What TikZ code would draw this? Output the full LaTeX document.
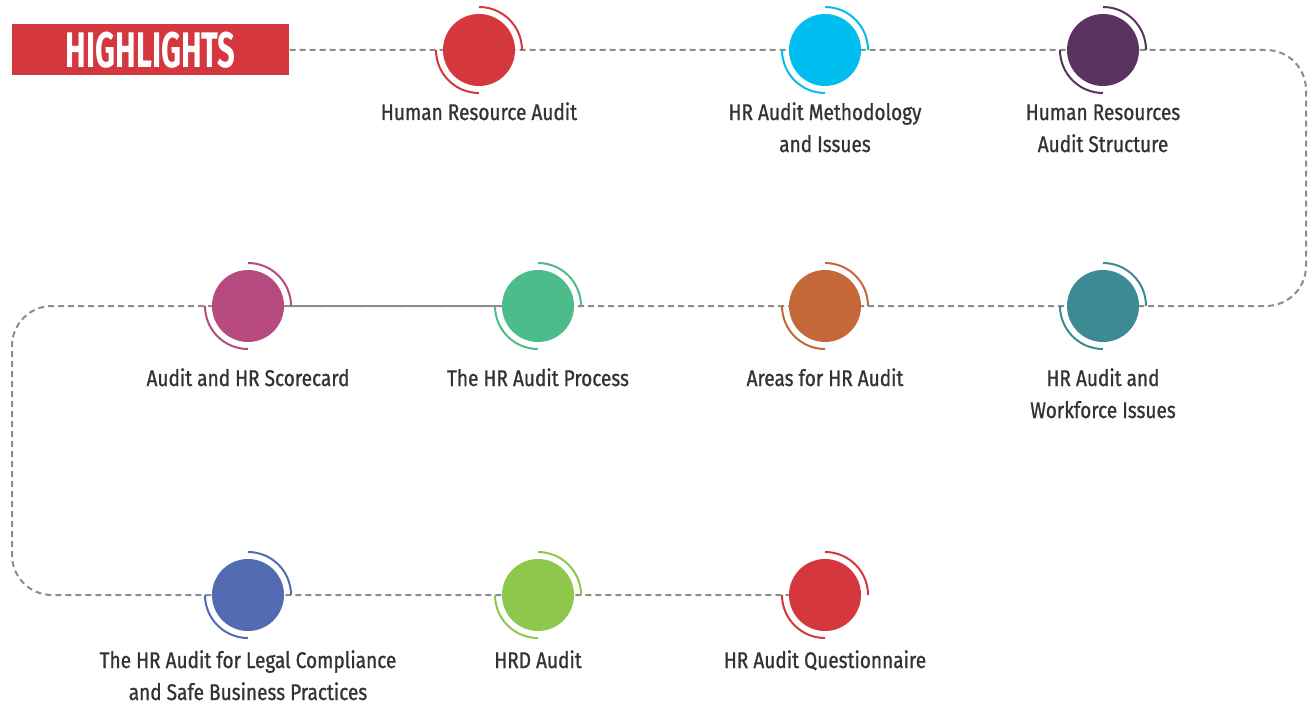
\documentclass[tikz,border=0pt]{standalone}
\usepackage{fontspec}
\setmainfont{Fira Sans}[FakeStretch=0.84, FakeBold=0.9]
\newfontfamily\hfont{Fira Sans}[FakeStretch=0.62]
\definecolor{txt}{HTML}{333333}
\definecolor{ln}{HTML}{8C8C8C}
\definecolor{cRed}{HTML}{D4373D}
\definecolor{cCyan}{HTML}{00BEF0}
\definecolor{cPurple}{HTML}{5C3263}
\definecolor{cMag}{HTML}{B84A82}
\definecolor{cGreen}{HTML}{4CBD8A}
\definecolor{cOrange}{HTML}{C4683A}
\definecolor{cTeal}{HTML}{3C8A93}
\definecolor{cBlue}{HTML}{536BB0}
\definecolor{cLime}{HTML}{8DC74B}
\tikzset{
  dot/.style={circle, fill=#1, minimum size=54pt, inner sep=0pt},
  conn/.style={draw=ln, line width=1.5pt, dash pattern=on 4.5pt off 3pt, rounded corners=30pt},
  lab/.style={text=txt, font=\fontsize{17}{24}\selectfont, align=center, anchor=base, inner sep=0pt},
}
\newcommand{\ringarcs}[2]{%
  \draw[#2, line width=1.5pt] (#1) ++(0,-43) arc[start angle=270, end angle=360, radius=43];
  \draw[#2, line width=1.5pt] (#1) ++(0,43) arc[start angle=90, end angle=180, radius=43];
}
\begin{document}
\begin{tikzpicture}[x=0.75pt, y=-0.75pt]
\useasboundingbox (0,0) rectangle (1312,706);
% header
\node[fill=cRed, minimum width=207.75pt, minimum height=38.25pt, inner sep=0pt, anchor=north west,
      text=white, font=\hfont\fontsize{37.5}{38}\selectfont\bfseries] (hl) at (12,24) {HIGHLIGHTS};
% centers
\coordinate (p1) at (479,50);
\coordinate (p2) at (825,50);
\coordinate (p3) at (1103,50);
\coordinate (p4) at (1103,306);
\coordinate (p5) at (825,306);
\coordinate (p6) at (538,306);
\coordinate (p7) at (248,306);
\coordinate (p8) at (248,595);
\coordinate (p9) at (538,595);
\coordinate (p10) at (825,595);
% connector
\draw[conn] (hl.east) -- (1306,50) -- (1306,306) -- (12,306) -- (12,595) -- (p10);
\draw[draw=ln, line width=1.5pt, dash pattern=on 4.5pt off 3pt, dash phase=3.5pt] (p7) -- (p6);
% circles
\foreach \i/\c in {1/cRed,2/cCyan,3/cPurple,4/cTeal,5/cOrange,6/cGreen,7/cMag,8/cBlue,9/cLime,10/cRed}{
  \node[dot=\c] (c\i) at (p\i) {};
  \ringarcs{p\i}{\c}
}
% labels
\node[lab] (l1) at (479,120) {Human Resource Audit};
\node[lab] (l2) at (825,152) {HR Audit Methodology\\and Issues};
\node[lab] (l3) at (1103,152) {Human Resources\\Audit Structure};
\node[lab] (l4) at (1103,418) {HR Audit and\\Workforce Issues};
\node[lab] (l5) at (825,386) {Areas for HR Audit};
\node[lab] (l6) at (538,386) {The HR Audit Process};
\node[lab] (l7) at (248,386) {Audit and HR Scorecard};
\node[lab] (l8) at (248,700) {The HR Audit for Legal Compliance\\and Safe Business Practices};
\node[lab] (l9) at (538,668) {HRD Audit};
\node[lab] (l10) at (825,668) {HR Audit Questionnaire};
\end{tikzpicture}
\end{document}
